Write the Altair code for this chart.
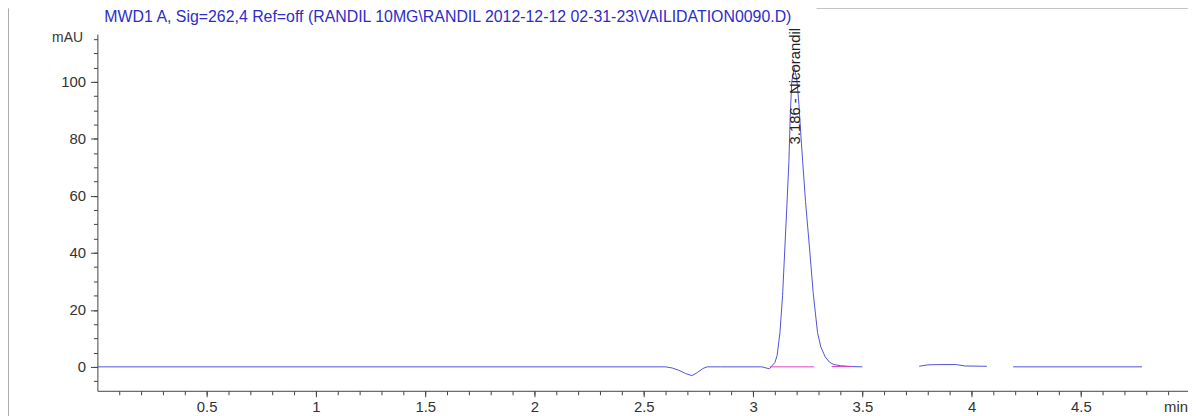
import altair as alt
import pandas as pd

# ---- trace data (retention time in min, signal in mAU) ----
seg1_t = [0.0, 2.60, 2.63, 2.66, 2.69, 2.72, 2.745, 2.77, 2.79, 2.85, 3.04, 3.06, 3.075,
          3.085, 3.10, 3.11, 3.123, 3.135, 3.145, 3.155, 3.164, 3.17, 3.177, 3.188, 3.20,
          3.21, 3.218, 3.227, 3.24, 3.259, 3.275, 3.295, 3.31, 3.33, 3.35, 3.37, 3.40,
          3.45, 3.50]
seg1_v = [0.0, 0.0, -0.4, -1.2, -2.3, -3.1, -2.0, -0.6, 0.0, 0.0, 0.0, -0.4, -0.7,
          0.3, 1.5, 4.0, 12.0, 25.0, 41.0, 57.0, 72.0, 88.0, 100.0, 105.0, 101.0,
          92.0, 82.0, 72.0, 58.0, 41.0, 26.0, 12.0, 7.0, 3.5, 1.6, 0.8, 0.4,
          0.1, 0.0]
seg2_t = [3.76, 3.80, 3.85, 3.93, 3.97, 4.07]
seg2_v = [0.2, 0.7, 0.8, 0.8, 0.3, 0.2]
seg3_t = [4.19, 4.78]
seg3_v = [0.0, 0.0]

# integration baseline (magenta)
base_t = [3.077, 3.28, 3.36, 3.45]
base_v = [0.0, 0.0, 0.1, 0.1]
base_seg = ["a", "a", "b", "b"]

# peak annotation
peak_t = [3.19]
peak_label_v = [78.0]
peak_label = ["3.186 - Nicorandil"]

# axis ticks
x_major = [0.5, 1, 1.5, 2, 2.5, 3, 3.5, 4, 4.5]
x_minor = [round(0.1 * i, 1) for i in range(1, 50)]
y_major = [0, 20, 40, 60, 80, 100]
y_minor = list(range(-5, 116, 5))
x_domain = [0, 4.99]
y_domain = [-8.4, 116.7]
unit_t = [4.99]
unit_label = ["min"]

title_text = ["MWD1 A, Sig=262,4 Ref=off (RANDIL 10MG\\RANDIL 2012-12-12 02-31-23\\VAILIDATION0090.D)"]

trace = pd.DataFrame({
    "t": seg1_t + seg2_t + seg3_t,
    "v": seg1_v + seg2_v + seg3_v,
    "seg": ["s1"] * len(seg1_t) + ["s2"] * len(seg2_t) + ["s3"] * len(seg3_t),
})
base = pd.DataFrame({"t": base_t, "v": base_v, "seg": base_seg})
peak = pd.DataFrame({"t": peak_t, "v": peak_label_v, "label": peak_label})
unit = pd.DataFrame({"t": unit_t, "label": unit_label})
ttl = pd.DataFrame({"label": title_text})
one = pd.DataFrame({"k": [0]})

W, H = 1098, 359
FONT = "Liberation Sans"
xs = alt.Scale(domain=x_domain, nice=False, zero=False)
ys = alt.Scale(domain=y_domain, nice=False, zero=False)

common = dict(grid=False, domainColor="#444", tickColor="#444", labelColor="#333",
              labelFont=FONT, labelFontSize=15)

line = alt.Chart(trace).mark_line(color="#5252d8", strokeWidth=1).encode(
    x=alt.X("t:Q", scale=xs, axis=alt.Axis(values=x_major, tickSize=6, labelPadding=3,
                                            format="~g", title=None, orient="bottom",
                                            labelFlush=False, **common)),
    y=alt.Y("v:Q", scale=ys, axis=alt.Axis(values=y_major, tickSize=7, labelPadding=5,
                                            title="mAU", titleAngle=0, titleX=-15, titleY=3,
                                            titleAlign="right", titleBaseline="middle",
                                            titleFontWeight="normal", titleFontSize=14,
                                            titleFont=FONT, titleColor="#333",
                                            orient="left", labelFlush=False, **common)),
    detail="seg:N",
)

minor = alt.Chart(trace).mark_line(strokeOpacity=0).encode(
    x=alt.X("t:Q", scale=xs, axis=alt.Axis(values=x_minor, tickSize=4, labels=False,
                                            domain=False, grid=False, title=None,
                                            orient="bottom", tickColor="#444")),
    y=alt.Y("v:Q", scale=ys, axis=alt.Axis(values=y_minor, tickSize=4, labels=False,
                                            domain=False, grid=False, title=None,
                                            orient="left", tickColor="#444")),
    detail="seg:N",
)

baseline = alt.Chart(base).mark_line(color="#e040c8", strokeWidth=1).encode(
    x=alt.X("t:Q", scale=xs, axis=None), y=alt.Y("v:Q", scale=ys, axis=None), detail="seg:N")

label = alt.Chart(peak).mark_text(angle=270, align="left", baseline="middle", fontSize=15,
                                  font=FONT, color="#222").encode(
    x=alt.X("t:Q", scale=xs, axis=None), y=alt.Y("v:Q", scale=ys, axis=None), text="label:N")

unit_text = alt.Chart(unit).mark_text(align="right", baseline="middle", fontSize=15,
                                      font=FONT, color="#333").encode(
    x=alt.X("t:Q", scale=xs, axis=None), y=alt.value(H + 16), text="label:N")

title_mark = alt.Chart(ttl).mark_text(align="left", baseline="middle", fontSize=16,
                                      font=FONT, color="#2d2dc8").encode(
    x=alt.value(7), y=alt.value(-17.5), text="label:N")

frame_left = alt.Chart(one).mark_rule(color="#aaa", strokeWidth=1).encode(
    x=alt.value(-89.5), y=alt.value(-26), y2=alt.value(H + 30))
frame_top = alt.Chart(one).mark_rule(color="#bbb", strokeWidth=1).encode(
    x=alt.value(724), x2=alt.value(W), y=alt.value(-26))

chart = alt.layer(line, minor, baseline, label, unit_text, title_mark,
                  frame_left, frame_top).resolve_axis(
    x="independent", y="independent"
).properties(
    width=W, height=H,
    autosize=alt.AutoSizeParams(type="none"),
    padding={"left": 90, "top": 25, "right": 0, "bottom": 24},
).configure_view(stroke=None)

chart.save("out.html", embed_options={"renderer": "svg", "actions": False})
